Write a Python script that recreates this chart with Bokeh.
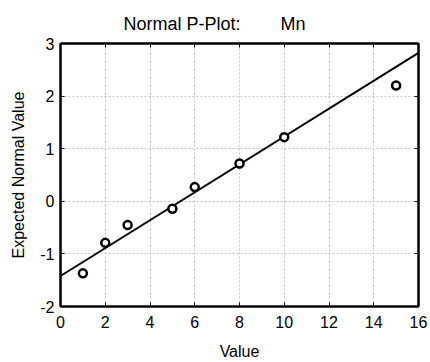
from bokeh.plotting import figure
from bokeh.models import LinearAxis, Range1d, FixedTicker
from bokeh.embed import file_html
from bokeh.resources import INLINE

values = [1, 2, 3, 5, 6, 8, 10, 15]
expected = [-1.37, -0.79, -0.45, -0.14, 0.27, 0.72, 1.22, 2.20]
line_x = [0, 16]
line_y = [-1.42, 2.82]
x_ticks = [0, 2, 4, 6, 8, 10, 12, 14, 16]
y_ticks = [-2, -1, 0, 1, 2, 3]
y_tick_labels = ["-2", "-1", "0", "1", "2", "3"]

FONT = "Liberation Sans"

p = figure(width=430, height=362, output_backend="svg", toolbar_location=None,
           x_range=Range1d(0, 16), y_range=Range1d(-2, 3),
           min_border_left=60, min_border_right=12, min_border_top=43, min_border_bottom=54)

p.title.text = "Normal P-Plot:" + "\u00a0" * 8 + "Mn"
p.title.text_font = FONT
p.title.text_font_size = "18px"
p.title.text_font_style = "normal"
p.title.text_color = "black"
p.title.align = "left"
p.title.offset = 63
p.title.standoff = 19

p.outline_line_color = "black"
p.outline_line_width = 2

for ax in (p.xaxis[0], p.yaxis[0]):
    ax.major_label_text_font = FONT
    ax.major_label_text_font_size = "16px"
    ax.major_label_text_color = "black"
    ax.axis_label_text_font = FONT
    ax.axis_label_text_font_size = "16px"
    ax.axis_label_text_font_style = "normal"
    ax.axis_label_text_color = "black"
    ax.major_tick_in = 4
    ax.major_tick_out = 0
    ax.major_tick_line_color = "black"
    ax.minor_tick_line_color = None
    ax.axis_line_color = "black"
    ax.axis_line_width = 2

p.xaxis[0].ticker = FixedTicker(ticks=x_ticks)
p.yaxis[0].ticker = FixedTicker(ticks=y_ticks)
p.yaxis[0].major_label_overrides = {t: s for t, s in zip(y_ticks, y_tick_labels)}
p.xaxis[0].axis_label = "Value"
p.yaxis[0].axis_label = "Expected Normal Value"
p.xaxis[0].major_label_standoff = 9
p.yaxis[0].major_label_standoff = 6
p.xaxis[0].axis_label_standoff = 12
p.yaxis[0].axis_label_standoff = 10

for side, ticks in (("right", y_ticks), ("above", x_ticks)):
    ax = LinearAxis(ticker=FixedTicker(ticks=ticks), major_label_text_font_size="1px",
                    major_label_text_color=None, major_label_standoff=0,
                    major_tick_in=4, major_tick_out=0, minor_tick_line_color=None,
                    major_tick_line_color="black",
                    axis_line_color="black", axis_line_width=2)
    p.add_layout(ax, side)

p.xgrid.ticker = FixedTicker(ticks=x_ticks)
p.ygrid.ticker = FixedTicker(ticks=y_ticks)
p.grid.grid_line_color = "#c4c4c4"
p.grid.grid_line_dash = "2 2"
p.grid.grid_line_width = 1

p.line(line_x, line_y, line_color="black", line_width=2)
p.scatter(values, expected, marker="circle", size=8, fill_color="white",
          line_color="black", line_width=2.5)

open("out.html", "w").write(file_html(p, INLINE))
